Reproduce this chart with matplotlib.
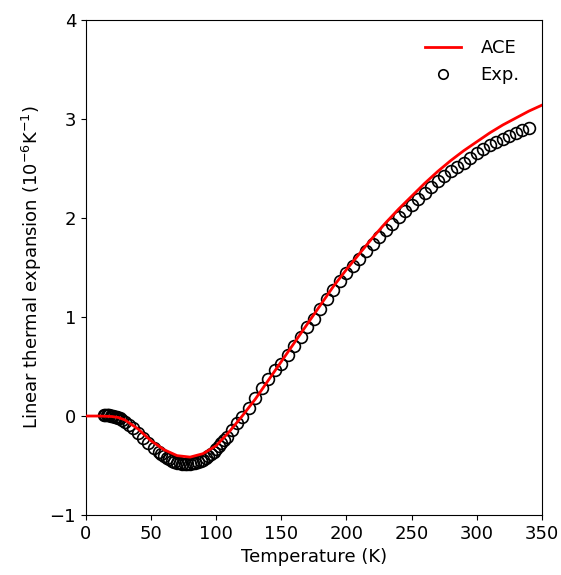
import matplotlib
matplotlib.use('Agg')
import matplotlib.pyplot as plt
import numpy as np

# curva calculada (ACE)
t_ace = [0, 10, 20, 25, 30, 40, 50, 60, 70, 80, 90, 100, 110, 120, 130, 140, 150,
         160, 170, 180, 190, 200, 210, 220, 230, 240, 250, 260, 270, 280, 290,
         300, 310, 320, 330, 340, 350]
alpha_ace = [0.0, 0.0, -0.005, -0.015, -0.04, -0.13, -0.25, -0.34, -0.40, -0.415,
             -0.38, -0.30, -0.16, 0.0, 0.17, 0.36, 0.55, 0.74, 0.93, 1.12, 1.31,
             1.48, 1.64, 1.80, 1.95, 2.09, 2.22, 2.35, 2.47, 2.58, 2.68, 2.77,
             2.86, 2.94, 3.01, 3.08, 3.14]

# pontos experimentais
t_exp = [14, 15, 16, 17, 18, 19, 20, 21, 22, 23, 24, 25, 26, 28, 30,
         33, 36, 40, 44, 48, 52, 56, 58, 60, 62, 64, 66, 68, 70, 72, 74, 76,
         78, 80, 82, 84, 86, 88, 90, 92, 94, 96, 98, 100, 102, 104, 106, 108,
         112, 116, 120, 125, 130, 135, 140, 145, 150, 155, 160, 165, 170, 175,
         180, 185, 190, 195, 200, 205, 210, 215, 220, 225, 230, 235, 240, 245,
         250, 255, 260, 265, 270, 275, 280, 285, 290, 295, 300, 305, 310, 315,
         320, 325, 330, 335, 340]
alpha_exp = [0.01, 0.01, 0.01, 0.01, 0.01, 0.005, 0.0, 0.0, -0.005, -0.01, -0.01,
             -0.02, -0.025, -0.04, -0.06,
             -0.09, -0.12, -0.17, -0.22, -0.27, -0.32, -0.36, -0.38, -0.40, -0.42,
             -0.435, -0.45, -0.46, -0.47, -0.475, -0.48, -0.48,
             -0.48, -0.48, -0.475, -0.47, -0.46, -0.45, -0.44, -0.42, -0.40,
             -0.38, -0.36, -0.33, -0.30, -0.27, -0.24, -0.21,
             -0.14, -0.07, -0.01, 0.08, 0.18, 0.28, 0.37, 0.46, 0.53, 0.62, 0.71,
             0.80, 0.90, 0.98,
             1.08, 1.18, 1.27, 1.36, 1.44, 1.52, 1.59, 1.67, 1.74, 1.81, 1.88,
             1.94, 2.01, 2.07,
             2.13, 2.19, 2.25, 2.31, 2.37, 2.42, 2.47, 2.52, 2.56, 2.61, 2.66,
             2.70, 2.74, 2.77,
             2.80, 2.83, 2.86, 2.89, 2.91]

plt.rcParams['font.size'] = 13

fig = plt.figure(figsize=(5.61, 5.75), dpi=100)
ax = fig.add_axes([0.153, 0.1043, 0.813, 0.8609])

ax.plot(t_ace, alpha_ace, color='red', lw=2, label='ACE', zorder=3)
ax.plot(t_exp, alpha_exp, 'o', mfc='none', mec='black', ms=8.5, mew=1.2,
        label='Exp.', zorder=2)

ax.set_xlim(0, 350)
ax.set_ylim(-1, 4)
ax.set_xticks(np.arange(0, 351, 50))
ax.set_yticks(np.arange(-1, 5, 1))
ax.set_xlabel('Temperature (K)')
ax.set_ylabel('Linear thermal expansion (10$^{-6}$K$^{-1}$)')
ax.legend(loc='upper right', frameon=False, bbox_to_anchor=(0.987, 0.994),
          handletextpad=1.1, markerscale=0.8)

plt.savefig('out.png', dpi=100)
